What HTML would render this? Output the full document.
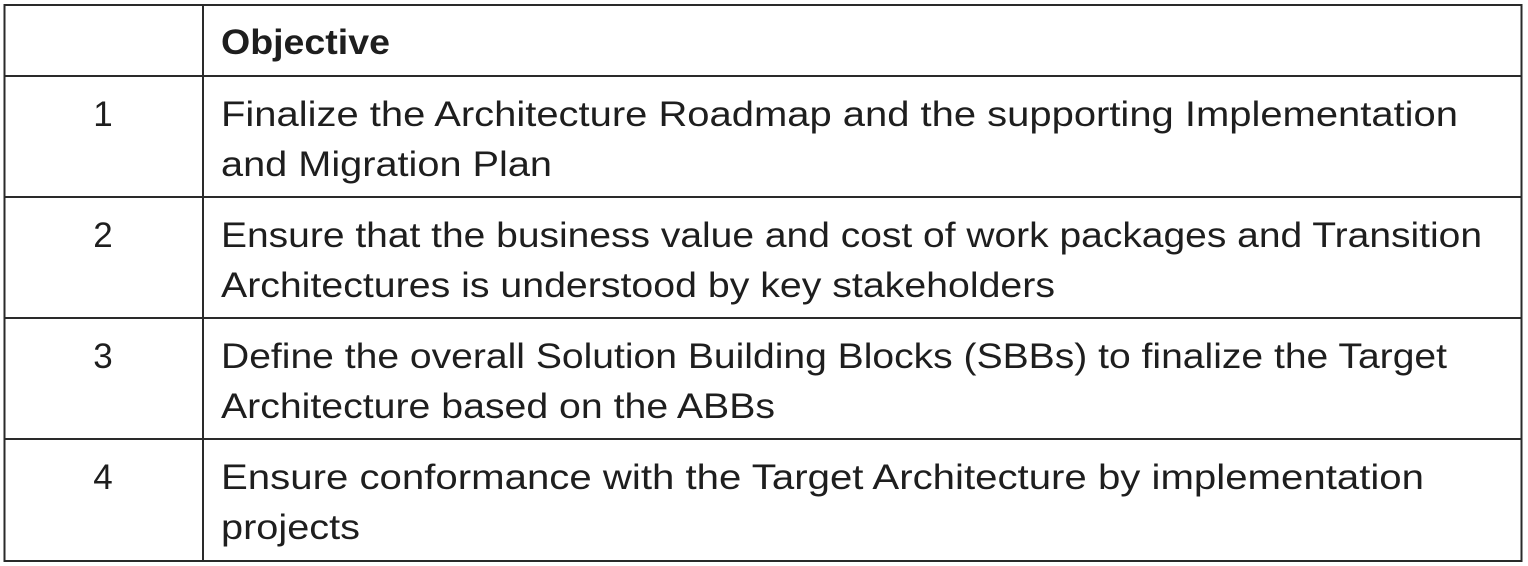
<!DOCTYPE html>
<html><head><meta charset="utf-8"><style>
html,body{margin:0;padding:0;background:#fff;}
svg{display:block}
text{font-family:"Liberation Sans",sans-serif;font-size:35px;fill:#1e1e1e;}
</style></head><body>
<svg width="1528" height="566" viewBox="0 0 1528 566" xmlns="http://www.w3.org/2000/svg">
<g stroke="#2a2a2a" stroke-width="2" fill="none">
<rect x="4.5" y="5" width="1517" height="556"/>
<line x1="203" y1="5" x2="203" y2="561"/>
<line x1="4" y1="76" x2="1522" y2="76"/>
<line x1="4" y1="197" x2="1522" y2="197"/>
<line x1="4" y1="318" x2="1522" y2="318"/>
<line x1="4" y1="439" x2="1522" y2="439"/>
</g>
<text x="221" y="54" font-weight="bold" textLength="169" lengthAdjust="spacingAndGlyphs">Objective</text>
<g text-anchor="middle">
<text x="103" y="126">1</text>
<text x="103" y="247">2</text>
<text x="103" y="368">3</text>
<text x="103" y="489">4</text>
</g>
<text x="221" y="126" textLength="1237" lengthAdjust="spacingAndGlyphs">Finalize the Architecture Roadmap and the supporting Implementation</text>
<text x="221" y="176" textLength="331" lengthAdjust="spacingAndGlyphs">and Migration Plan</text>
<text x="221" y="247" textLength="1261" lengthAdjust="spacingAndGlyphs">Ensure that the business value and cost of work packages and Transition</text>
<text x="221" y="297" textLength="834" lengthAdjust="spacingAndGlyphs">Architectures is understood by key stakeholders</text>
<text x="221" y="368" textLength="1226" lengthAdjust="spacingAndGlyphs">Define the overall Solution Building Blocks (SBBs) to finalize the Target</text>
<text x="221" y="418" textLength="554" lengthAdjust="spacingAndGlyphs">Architecture based on the ABBs</text>
<text x="221" y="489" textLength="1203" lengthAdjust="spacingAndGlyphs">Ensure conformance with the Target Architecture by implementation</text>
<text x="221" y="539" textLength="139" lengthAdjust="spacingAndGlyphs">projects</text>
</svg>
</body></html>
